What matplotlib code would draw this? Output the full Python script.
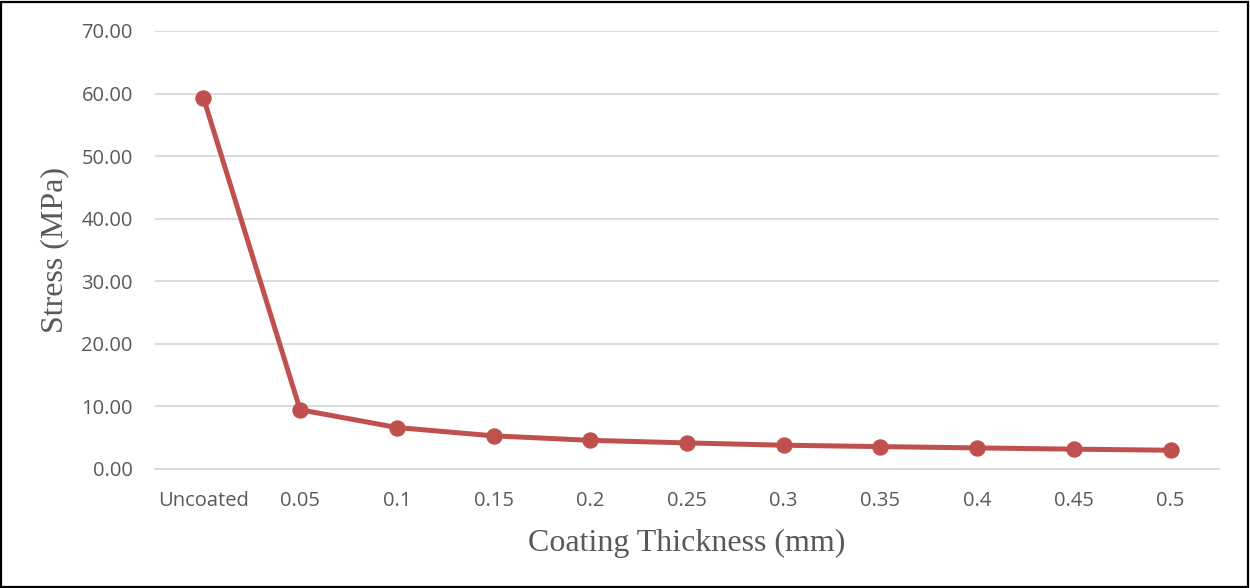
import matplotlib
matplotlib.use("Agg")
import matplotlib.pyplot as plt
from matplotlib.patches import Rectangle

# Coating thickness categories and the corresponding stress values
thickness_labels = ["Uncoated", "0.05", "0.1", "0.15", "0.2", "0.25",
                    "0.3", "0.35", "0.4", "0.45", "0.5"]
stress_mpa = [59.36, 9.47, 6.63, 5.30, 4.58, 4.17, 3.80, 3.58, 3.37, 3.17, 3.00]
y_ticks = [0, 10, 20, 30, 40, 50, 60, 70]

W, H, DPI = 1250, 588, 100
fig = plt.figure(figsize=(W / DPI, H / DPI), dpi=DPI)
fig.patch.set_facecolor("white")

# Plot area in pixel coordinates
left, right, top, bottom = 155, 1219, 31, 469
ax = fig.add_axes([left / W, 1 - bottom / H, (right - left) / W, (bottom - top) / H])

x = list(range(len(thickness_labels)))
ax.plot(x, stress_mpa, color="#C0504D", linewidth=3.6, marker="o",
        markersize=10.8, markerfacecolor="#C0504D", markeredgecolor="#C0504D",
        solid_joinstyle="round", zorder=3)

ax.set_xlim(-0.5, len(thickness_labels) - 0.5)
ax.set_ylim(0, 70)
ax.set_yticks(y_ticks)
ax.set_yticklabels([f"{v:.2f}" for v in y_ticks])
ax.set_xticks(x)
ax.set_xticklabels(thickness_labels)

for lbl in ax.get_xticklabels() + ax.get_yticklabels():
    lbl.set_fontfamily(["Open Sans", "DejaVu Sans"])
    lbl.set_fontsize(14.5)
    lbl.set_color("#595959")

ax.tick_params(axis="both", length=0)
ax.tick_params(axis="y", pad=16)
ax.tick_params(axis="x", pad=16)

ax.grid(axis="y", color="#D9D9D9", linewidth=1.3)
ax.set_axisbelow(True)
for side in ["top", "right", "left"]:
    ax.spines[side].set_visible(False)
ax.spines["bottom"].set_color("#D9D9D9")
ax.spines["bottom"].set_linewidth(1.3)

serif = ["Liberation Serif", "DejaVu Serif"]
fig.text(687 / W, 1 - 543 / H, "Coating Thickness (mm)", ha="center", va="center",
         family=serif, fontsize=23, color="#595959")
fig.text(55 / W, 1 - 250 / H, "Stress (MPa)", ha="center", va="center",
         rotation=90, family=serif, fontsize=23, color="#595959")

# Outer frame around the whole chart
fig.patches.append(Rectangle((1.5 / W, 1.5 / H), 1 - 3.5 / W, 1 - 3.5 / H,
                             transform=fig.transFigure, fill=False,
                             edgecolor="black", linewidth=1.6))

fig.savefig("out.png", dpi=DPI, facecolor="white")
